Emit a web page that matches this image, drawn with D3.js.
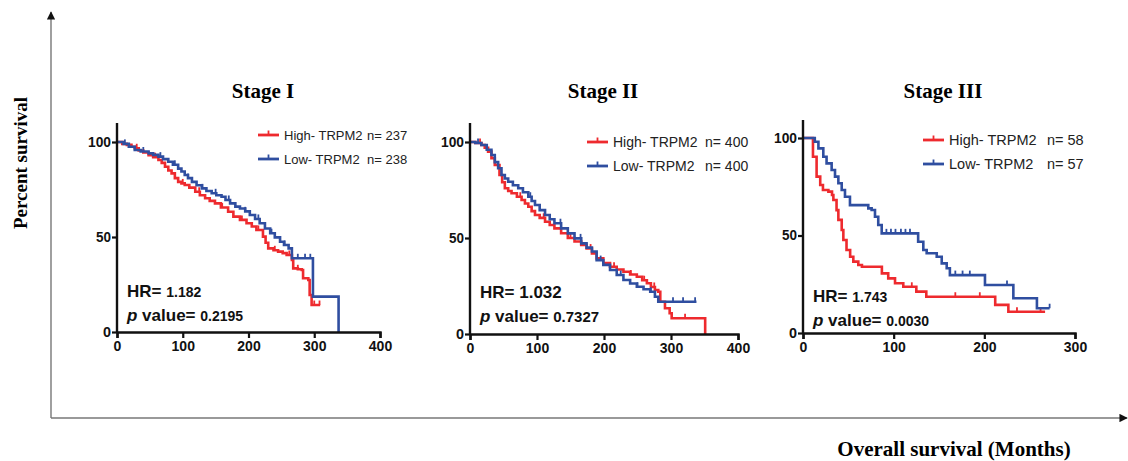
<!DOCTYPE html>
<html>
<head>
<meta charset="utf-8">
<script src="https://cdn.jsdelivr.net/npm/d3@7"></script>
<style>
  body { margin: 0; background: #fff; }
  svg { display: block; font-family: "Liberation Sans", Arial, sans-serif; }
  .tick text { font-weight: bold; font-size: 14px; fill: #111; }
  .big-title { font-family: "Liberation Serif", "Times New Roman", serif; font-weight: bold; }
</style>
</head>
<body>
<svg width="1128" height="461"></svg>
<script>
"use strict";

// survival steps: [month, percent]
var stage1High = [[0,100],[8,99],[15,98.5],[22,97.5],[27,96.7],[33,95.5],[40,94.5],[48,93],[55,92],[63,90.5],[68,89],[73,87],[78,85],[83,83.5],[88,81],[93,79],[98,78.2],[103,77.4],[110,76],[119,73.8],[126,72],[134,70.4],[141,69],[149,67.7],[158,65.5],[169,63.3],[177,60.7],[187,59],[197,57.2],[205,55.5],[212,53.7],[222,50.2],[226,47],[230,44],[238,43],[245,42.3],[252,41.5],[258,40.5],[266,37.9],[268,33.5],[275,33],[281,32.6],[283,28.3],[291,27.4],[293,19.5],[296,14.2],[309,14.2]];
var stage1Low = [[0,100],[10,99],[18,97.5],[27,95.8],[36,95],[48,94],[55,93.2],[63,92.3],[70,91],[78,89.6],[85,88],[93,86],[98,84.5],[103,82.6],[108,81],[114,79],[121,77.2],[129,75.6],[136,74.2],[144,73],[151,72],[159,71.2],[165,69.5],[172,67.7],[180,66],[187,65],[195,63.5],[202,61.6],[210,59.5],[217,57.2],[225,54.5],[233,52],[240,49.8],[248,47.5],[254,45.8],[261,44],[266,38.8],[298,18.6],[337,0]];
var stage2High = [[0,100],[8,99.5],[17,98.4],[22,97],[27,95],[32,91.5],[37,88],[44,82.8],[48,79],[52,75.9],[57,74.5],[62,73.3],[70,71.5],[77,69.8],[82,68],[87,66.3],[92,64],[97,62],[104,60.5],[112,58.5],[119,56.8],[126,55],[136,52.5],[146,50],[156,48.2],[166,46.4],[174,44.5],[182,42],[189,39.4],[199,37],[209,35],[219,33.6],[229,32.4],[239,31],[249,29.8],[257,28],[264,26.4],[270,24.5],[276,22.9],[281,22],[284,16.8],[291,13.4],[298,10.8],[301,8.2],[351,0]];
var stage2Low = [[0,100],[8,99.5],[17,98.4],[25,96],[32,93.2],[37,89.5],[42,86.3],[47,82.8],[52,81],[57,79.3],[64,77.5],[72,75.9],[79,73.8],[87,71.5],[92,69.3],[97,67.2],[104,64.5],[112,62],[119,59.8],[126,57.7],[136,55],[146,52.4],[156,49.8],[166,47.2],[174,45],[182,43],[189,38.5],[199,36],[209,33.3],[219,30.7],[229,28.1],[239,26.3],[249,24.6],[259,23.3],[269,22],[276,19.4],[281,16.8],[338,16.8]];
var stage3High = [[0,100],[11,90.4],[15,80.2],[19,75.9],[22,73.3],[28,72.5],[32,70.8],[33.5,68.2],[37,63],[39,58],[42.7,52.8],[44.5,47.7],[48,42.6],[52,39.1],[55.5,36.6],[61,34.9],[65,34],[87,30.6],[94,28],[101.5,25.5],[110.6,23.7],[125,21.2],[136,18.6],[212,14.4],[226.5,10.9],[267,10.9]];
var stage3Low = [[0,100],[13,98.1],[17,94.7],[22.4,90.4],[26,87],[31.6,83.6],[35.3,80.2],[39,76.8],[42.7,73.3],[46.3,69.9],[51.8,65.6],[72,63.9],[75.7,63.1],[79.4,59.6],[83,55.4],[86.8,51.1],[127,46.8],[132.7,42.6],[136.4,40.9],[147.5,39.1],[153,35.7],[158.5,33.2],[162,29.7],[200.7,24.6],[232,17.8],[258,12.7],[272,12.7]];

// censored observations (months)
var stage1HighCens = [30,58,100,125,160,190,215,240,262,275,300,308];
var stage1LowCens = [12,40,66,88,108,130,150,170,195,215,235,255,275,286,294];
var stage2HighCens = [15,75,110,150,180,215,240,260,275,321];
var stage2LowCens = [12,42,90,135,165,195,225,250,270,303,318,336];
var stage3HighCens = [120,168,195,236,262];
var stage3LowCens = [92,97,102,108,113,118,168,176,184,225,272];

var titles = ["Stage I", "Stage II", "Stage III"];
var highN = ["237", "400", "58"];
var lowN = ["238", "400", "57"];
var hrValues = ["1.182", "1.032", "1.743"];
var pValues = ["0.2195", "0.7327", "0.0030"];
var xMax = [400, 400, 300];
var xTicks = [[0,100,200,300,400],[0,100,200,300,400],[0,100,200,300]];
var yTicks = [0, 50, 100];

var series = [
  [stage1High, stage1Low, stage1HighCens, stage1LowCens],
  [stage2High, stage2Low, stage2HighCens, stage2LowCens],
  [stage3High, stage3Low, stage3HighCens, stage3LowCens]
];

// panel placement (pixels)
var panels = [
  {x0: 117, x1: 380, y0: 332, y100: 142, top: 123, titleX: 263, legX: 258, legY: 135, legSize: 13, nX: 367, hrX: 127, hrY: 297, numSize: 14},
  {x0: 470, x1: 738, y0: 334, y100: 142, top: 123, titleX: 603, legX: 587, legY: 142, legSize: 14, nX: 705, hrX: 480, hrY: 298, numSize: 17},
  {x0: 803, x1: 1075, y0: 333, y100: 138, top: 120, titleX: 943, legX: 923, legY: 140, legSize: 14.5, nX: 1047, hrX: 813, hrY: 302, numSize: 14}
];

var red = "#ee2a2e", blue = "#2f4ea0";
var svg = d3.select("svg");

// outer frame axes with arrows
var defs = svg.append("defs");
defs.append("marker").attr("id", "arrow").attr("viewBox", "0 0 10 10")
  .attr("refX", 9).attr("refY", 5).attr("markerWidth", 6).attr("markerHeight", 6)
  .attr("orient", "auto")
  .append("path").attr("d", "M0,0L10,5L0,10Z").attr("fill", "#111");

svg.append("line").attr("x1", 51).attr("y1", 418).attr("x2", 51).attr("y2", 12)
  .attr("stroke", "#777").attr("stroke-width", 1.4).attr("marker-end", "url(#arrow)");
svg.append("line").attr("x1", 51).attr("y1", 418).attr("x2", 1127).attr("y2", 418)
  .attr("stroke", "#777").attr("stroke-width", 1.4).attr("marker-end", "url(#arrow)");

svg.append("text").attr("class", "big-title").attr("font-size", 19)
  .attr("transform", "translate(27,163) rotate(-90)")
  .attr("text-anchor", "middle").text("Percent survival");
svg.append("text").attr("class", "big-title").attr("font-size", 21)
  .attr("x", 954).attr("y", 456).attr("text-anchor", "middle")
  .text("Overall survival (Months)");

function survivalAt(steps, t) {
  var s = steps[0][1];
  for (var i = 0; i < steps.length; i++) {
    if (steps[i][0] <= t) s = steps[i][1];
  }
  return s;
}

panels.forEach(function(p, i) {
  var g = svg.append("g");
  var x = d3.scaleLinear().domain([0, xMax[i]]).range([p.x0, p.x1]);
  var y = d3.scaleLinear().domain([0, 100]).range([p.y0, p.y100]);

  // title
  g.append("text").attr("class", "big-title").attr("font-size", 21)
    .attr("x", p.titleX).attr("y", 98)
    .attr("text-anchor", "middle").text(titles[i]);

  // curves
  var line = d3.line().x(function(d) { return x(d[0]); })
    .y(function(d) { return y(d[1]); }).curve(d3.curveStepAfter);
  var s = series[i];
  [[s[0], s[2], red], [s[1], s[3], blue]].forEach(function(c) {
    g.append("path").datum(c[0]).attr("d", line)
      .attr("fill", "none").attr("stroke", c[2]).attr("stroke-width", 2.6);
    g.selectAll(null).data(c[1]).enter().append("line")
      .attr("x1", function(d) { return x(d); }).attr("x2", function(d) { return x(d); })
      .attr("y1", function(d) { return y(survivalAt(c[0], d)) - 4.5; })
      .attr("y2", function(d) { return y(survivalAt(c[0], d)); })
      .attr("stroke", c[2]).attr("stroke-width", 1.8);
  });

  // axes
  var xAxis = d3.axisBottom(x).tickValues(xTicks[i]).tickSize(6).tickPadding(3);
  var gx = g.append("g").attr("transform", "translate(0," + p.y0 + ")").call(xAxis);
  var yAxis = d3.axisLeft(y).tickValues(yTicks).tickSize(5).tickPadding(1);
  var gy = g.append("g").attr("transform", "translate(" + p.x0 + ",0)").call(yAxis);
  gy.select(".domain").attr("d", "M0," + p.y0 + "V" + p.top);
  [gx, gy].forEach(function(a) {
    a.selectAll(".domain").attr("stroke", "#111").attr("stroke-width", 2.4);
    a.selectAll(".tick line").attr("stroke", "#111").attr("stroke-width", 2.2);
    a.selectAll("text").style("font-family", "'Liberation Sans', Arial, sans-serif");
  });
  gy.selectAll("text").attr("textLength", function(d) { return d === 100 ? 23 : d === 50 ? 15 : 8; })
    .attr("lengthAdjust", "spacingAndGlyphs");

  // legend
  [["High- TRPM2", highN[i], red], ["Low- TRPM2", lowN[i], blue]].forEach(function(l, k) {
    var ly = p.legY + k * 24;
    g.append("line").attr("x1", p.legX).attr("x2", p.legX + 21).attr("y1", ly).attr("y2", ly)
      .attr("stroke", l[2]).attr("stroke-width", 2.8);
    g.append("line").attr("x1", p.legX + 10.5).attr("x2", p.legX + 10.5).attr("y1", ly - 4.5).attr("y2", ly)
      .attr("stroke", l[2]).attr("stroke-width", 1.8);
    g.append("text").attr("x", p.legX + 26).attr("y", ly + 5).attr("font-size", p.legSize)
      .attr("fill", "#222").text(l[0]);
    g.append("text").attr("x", p.nX).attr("y", ly + 5).attr("font-size", p.legSize)
      .attr("fill", "#222").text("n= " + l[1]);
  });

  // stats
  var hr = g.append("text").attr("x", p.hrX).attr("y", p.hrY).attr("font-weight", "bold").attr("fill", "#111");
  hr.append("tspan").attr("font-size", 17).text("HR= ");
  hr.append("tspan").attr("font-size", p.numSize).text(hrValues[i]);
  var pv = g.append("text").attr("x", p.hrX).attr("y", p.hrY + 24).attr("font-weight", "bold").attr("fill", "#111");
  pv.append("tspan").attr("font-size", 17).attr("font-style", "italic").text("p");
  pv.append("tspan").attr("font-size", 17).text(" value= ");
  pv.append("tspan").attr("font-size", i === 1 ? 15 : p.numSize).text(pValues[i]);
});
</script>
</body>
</html>
